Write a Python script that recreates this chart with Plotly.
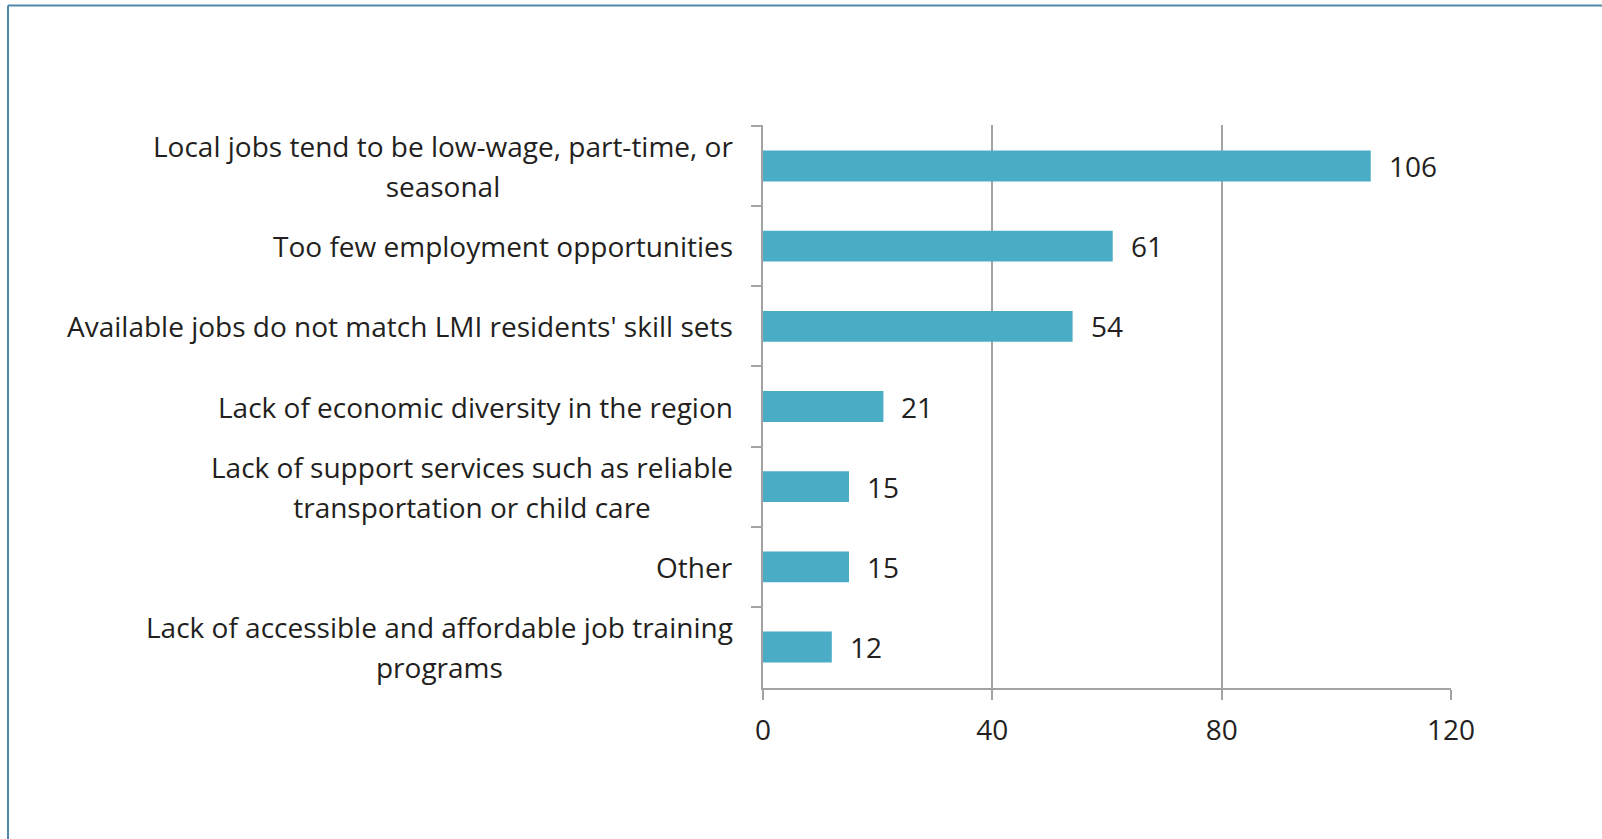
import plotly.graph_objects as go

# Survey responses: barriers to employment
categories = [
    "Local jobs tend to be low-wage, part-time, or<br>seasonal",
    "Too few employment opportunities",
    "Available jobs do not match LMI residents' skill sets",
    "Lack of economic diversity in the region",
    "Lack of support services such as reliable<br>transportation or child care",
    "Other",
    "Lack of accessible and affordable job training<br>programs",
]
counts = [106, 61, 54, 21, 15, 15, 12]
x_ticks = [0, 40, 80, 120]

BAR = "#4BACC6"
GRID = "#A3A3A3"
TEXT = "#231F20"
FRAME = "#4F87A8"
FONT = "Open Sans"
FS = 28
FS_WRAP = 31  # base size for wrapped labels: sets a roomier line gap

W, H = 1602, 839
L, R, T, B = 763, 151, 125, 151
plot_w = W - L - R
plot_h = H - T - B

fig = go.Figure(
    go.Bar(
        x=counts,
        y=categories,
        orientation="h",
        marker=dict(color=BAR, line=dict(width=0)),
        hoverinfo="skip",
    )
)

annotations = []
# category labels, right-aligned against the axis, wrapped lines centred
for lab in categories:
    lines = lab.split("<br>")
    if len(lines) > 1:
        text = "<br>".join(
            "<span style='font-size:%dpx'>%s</span>" % (FS, ln) for ln in lines
        )
        size = FS_WRAP
    else:
        text, size = lab, FS
    annotations.append(dict(
        x=-(L - 735) / plot_w, xref="paper", y=lab, yref="y",
        text=text, showarrow=False, align="center",
        xanchor="right", yanchor="middle",
        font=dict(family=FONT, size=size, color=TEXT),
    ))

# value labels beside each bar
for lab, v in zip(categories, counts):
    annotations.append(dict(
        x=v, xref="x", y=lab, yref="y", text=str(v), showarrow=False,
        xanchor="left", yanchor="middle", xshift=16,
        font=dict(family=FONT, size=FS, color=TEXT),
    ))

# outer frame: top and left edges
fx0 = (8 - L) / plot_w
fy_top = (H - B - 5.5) / plot_h
shapes = [
    dict(type="line", xref="paper", yref="paper", x0=fx0, x1=(W - L) / plot_w + 0.01,
         y0=fy_top, y1=fy_top, line=dict(color=FRAME, width=2)),
    dict(type="line", xref="paper", yref="paper", x0=fx0, x1=fx0,
         y0=fy_top, y1=-(B + 5) / plot_h, line=dict(color=FRAME, width=2)),
]

fig.update_layout(
    width=W, height=H,
    margin=dict(l=L, r=R, t=T, b=B, pad=0),
    paper_bgcolor="white", plot_bgcolor="white",
    bargap=0.615,
    showlegend=False,
    annotations=annotations,
    shapes=shapes,
    font=dict(family=FONT, size=FS, color=TEXT),
    xaxis=dict(
        range=[0, 120], tickvals=x_ticks, ticktext=[str(t) for t in x_ticks],
        showgrid=True, gridcolor=GRID, gridwidth=2,
        showline=True, linecolor=GRID, linewidth=2,
        ticks="outside", ticklen=10, tickwidth=2, tickcolor=GRID,
        ticklabelstandoff=6,
        zeroline=False, fixedrange=True,
        tickfont=dict(family=FONT, size=FS, color=TEXT),
    ),
    yaxis=dict(
        type="category",
        categoryorder="array", categoryarray=categories,
        autorange="reversed",
        showticklabels=False, showgrid=False,
        showline=True, linecolor=GRID, linewidth=2,
        ticks="outside", ticklen=10, tickwidth=2, tickcolor=GRID,
        tickson="boundaries", zeroline=False, fixedrange=True,
    ),
)

fig.write_html("out.html", config={"displayModeBar": False})
